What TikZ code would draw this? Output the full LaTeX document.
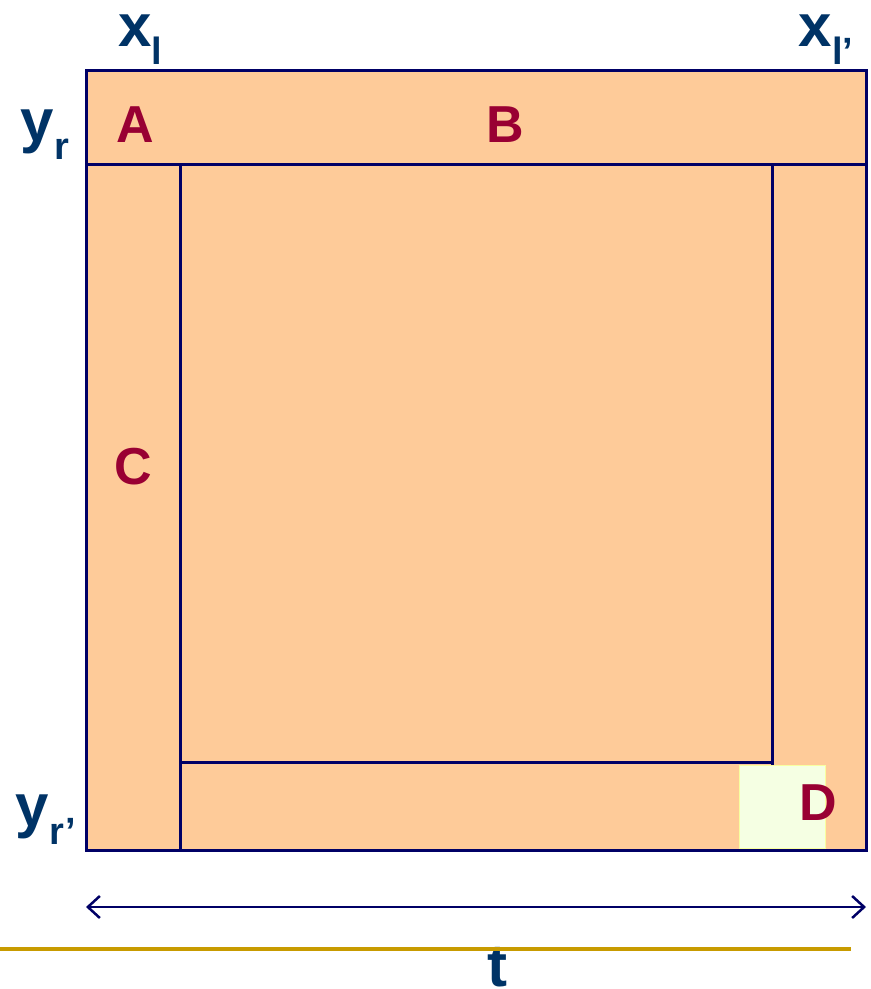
\documentclass[tikz,border=0pt]{standalone}
\usepackage{fontspec}
\setmainfont{Liberation Sans}
\usetikzlibrary{arrows.meta}
\definecolor{peach}{HTML}{FECB99}
\definecolor{navy}{HTML}{000066}
\definecolor{lbl}{HTML}{003366}
\definecolor{reg}{HTML}{990033}
\definecolor{pale}{HTML}{F5FFE3}
\definecolor{gold}{HTML}{C89B00}
\tikzset{
  box/.style={fill=peach, draw=navy, line width=3pt},
  reglbl/.style={text=reg, font=\fontsize{52}{52}\selectfont\bfseries, inner sep=0pt},
  axlbl/.style={text=lbl, font=\fontsize{60}{60}\selectfont\bfseries, inner sep=0pt, anchor=base}
}
\begin{document}
\begin{tikzpicture}[x=1pt,y=-1pt]
\useasboundingbox (0,0) rectangle (871,989);
\draw[box] (86,70) rectangle (866,164);
\draw[box] (86,164) rectangle (180,850);
\draw[box] (772,164) rectangle (866,850);
\draw[box] (180,762) rectangle (772,850);
\draw[box] (180,164) rectangle (772,762);
\fill[pale, draw=pale!70!yellow, line width=0.8pt] (739,765) rectangle (825,848);
\node[reglbl] (A) at (135,125) {A};
\node[reglbl] (B) at (505,125) {B};
\node[reglbl] (C) at (133,467) {C};
\node[reglbl] (D) at (818,803) {D};
\node[axlbl] (xl) at (140,46) {x\raisebox{-0.3em}{\fontsize{38}{38}\selectfont l}};
\node[axlbl] (xlp) at (826,46) {x\raisebox{-0.3em}{\fontsize{38}{38}\selectfont l’}};
\node[axlbl] (yr) at (45,141) {y\raisebox{-0.3em}{\fontsize{38}{38}\selectfont r}};
\node[axlbl] (yrp) at (46,826) {y\raisebox{-0.3em}{\fontsize{38}{38}\selectfont r’}};
\node[axlbl] (t) at (497,986) {t};
\coordinate (al) at (86,907);
\coordinate (ar) at (866,907);
\draw[navy, line width=2.5pt, {Straight Barb[length=12pt,width=22pt]}-{Straight Barb[length=12pt,width=22pt]}] (al) -- (ar);
\coordinate (gl) at (0,949);
\coordinate (gr) at (851,949);
\draw[gold, line width=4pt] (gl) -- (gr);
\end{tikzpicture}
\end{document}
